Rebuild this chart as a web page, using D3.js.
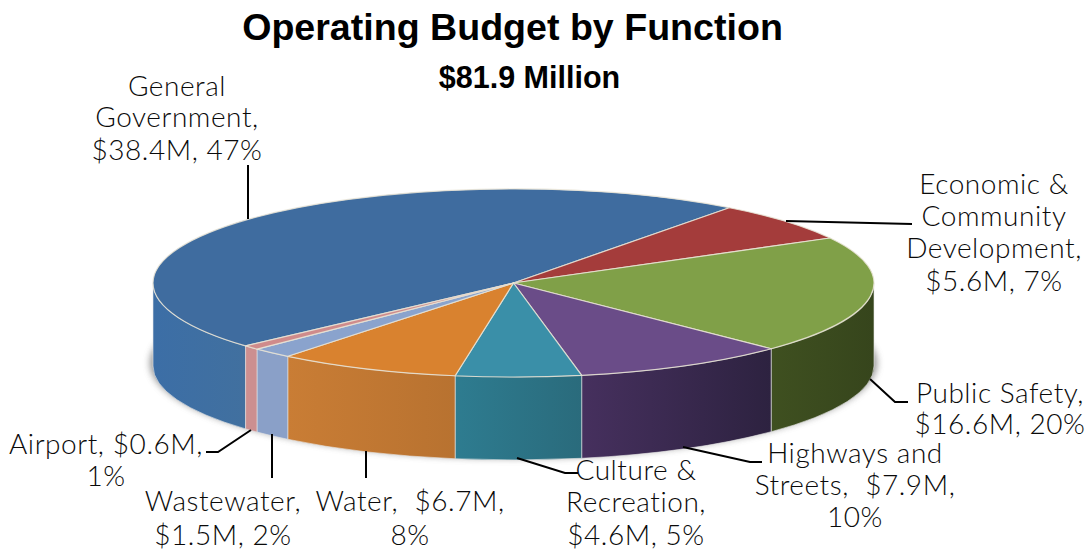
<!DOCTYPE html>
<html><head><meta charset="utf-8">
<script src="https://cdn.jsdelivr.net/npm/d3@7"></script>
<style>html,body{margin:0;padding:0;background:#fff}svg{display:block}</style></head>
<body><svg id="c" width="1091" height="550"></svg>
<script>
const categories=["General Government","Economic & Community Development","Public Safety","Highways and Streets","Culture & Recreation","Water","Wastewater","Airport"];
const values=[38.4,5.6,16.6,7.9,4.6,6.7,1.5,0.6];
const shares=[47,7,20,10,5,8,2,1];
const topColors=["#3f6c9f","#a43c3b","#80a048","#6a4c88","#3a8fa8","#d9822f","#8aa3cd","#cf8b8b"];
const sideLeft=["#3c6ea6","#8a3332","#3f5020","#46305e","#2e7c90","#c97d35","#8aa0c8","#cc8f90"];
const sideRight=["#41709f","#8a3332","#36451c","#2d2240","#2a6b7c","#b87230","#8aa0c8","#cc8f90"];
const labelLines=[["General","Government,","$38.4M, 47%"],["Economic &","Community","Development,","$5.6M, 7%"],["Public Safety,","$16.6M, 20%"],["Highways and","Streets,  $7.9M,","10%"],["Culture &","Recreation,","$4.6M, 5%"],["Water,  $6.7M,","8%"],["Wastewater,","$1.5M, 2%"],["Airport,  $0.6M,","1%"]];

const cfg={cx:513.5,cy:283,rx:360.5,ry:94,depth:83,start:36.6-168.6};
const labelPlace=[{x:177,y:[96,127,160]},{x:994,y:[194,226,258,291]},{x:1000,y:[403,434]},{x:855,y:[463,495,527]},{x:636,y:[480,512,545]},{x:410,y:[511,545]},{x:223,y:[511,545]},{x:106,y:[454,486],ws:-4}];
const leaders=[[[248,165],[248,219]],[[786,221],[912,224]],[[870,379],[895,402],[908,402]],[[683,447],[750,462],[762,462]],[[517,458],[565,473],[578,473]],[[366,451],[366,478]],[[272,434],[272,478]],[[251,430],[218,452],[206,452]]];

const svg=d3.select("#c");
const defs=svg.append("defs");
defs.append("filter").attr("id","blur").attr("x","-10%").attr("y","-30%").attr("width","120%").attr("height","160%")
  .append("feGaussianBlur").attr("stdDeviation",3.5);
categories.forEach((c,i)=>{
  const g=defs.append("linearGradient").attr("id","side"+i);
  g.append("stop").attr("offset",0).attr("stop-color",sideLeft[i]);
  g.append("stop").attr("offset",1).attr("stop-color",sideRight[i]);
});
const k=cfg.ry/cfg.rx, rad=Math.PI/180;
const pie=d3.pie().sort(null).startAngle(cfg.start*rad).endAngle((cfg.start+360)*rad);
const arcs=pie(values).map((d,i)=>({...d,i}));
const topArc=d3.arc().innerRadius(0).outerRadius(cfg.rx);

// shadow
svg.append("ellipse").attr("cx",cfg.cx).attr("cy",cfg.cy+cfg.depth-3).attr("rx",cfg.rx+3).attr("ry",cfg.ry+1)
  .attr("fill","#666").attr("opacity",.7).attr("filter","url(#blur)");

const pie3d=svg.append("g").attr("transform",`translate(${cfg.cx},${cfg.cy}) scale(1,${k})`);
const dY=cfg.depth/k;
function sidePath(d){
  const p=d3.path();
  [0,-2*Math.PI].forEach(off=>{
    const a0=Math.max(d.startAngle,Math.PI/2+off), a1=Math.min(d.endAngle,3*Math.PI/2+off);
    if(a1<=a0) return;
    const A0=a0-Math.PI/2,A1=a1-Math.PI/2,r=cfg.rx;
    p.moveTo(r*Math.cos(A0),r*Math.sin(A0));
    p.arc(0,0,r,A0,A1,false);
    p.lineTo(r*Math.cos(A1),r*Math.sin(A1)+dY);
    p.arc(0,dY,r,A1,A0,true);
    p.closePath();
  });
  return p.toString();
}
pie3d.selectAll("path.side").data(arcs).join("path").attr("class","side")
  .attr("d",sidePath).attr("fill",d=>`url(#side${d.i})`)
  .attr("stroke","#e8e8e8").attr("stroke-opacity",.6).attr("stroke-width",1).attr("vector-effect","non-scaling-stroke");
pie3d.selectAll("path.top").data(arcs).join("path").attr("class","top")
  .attr("d",topArc).attr("fill",d=>topColors[d.i])
  .attr("stroke","#e9e4d6").attr("stroke-opacity",.85).attr("stroke-width",1.2).attr("vector-effect","non-scaling-stroke").attr("stroke-linejoin","round");

svg.append("g").selectAll("path").data(leaders).join("path")
  .attr("d",d3.line()).attr("fill","none").attr("stroke","#000").attr("stroke-width",2);

const lab=svg.append("g").attr("font-family","Lato, 'Open Sans', sans-serif").attr("font-weight",300).attr("font-size",28).attr("letter-spacing",0.55).attr("fill","#0a0a0a").attr("text-anchor","middle");
labelLines.forEach((lines,i)=>{
  lines.forEach((t,j)=>{
    lab.append("text").attr("x",labelPlace[i].x).attr("y",labelPlace[i].y[j]).attr("word-spacing",labelPlace[i].ws||0).attr("xml:space","preserve").style("white-space","pre").text(t);
  });
});
svg.append("text").attr("x",512.5).attr("y",40).attr("text-anchor","middle").attr("font-family","'Liberation Sans',sans-serif").attr("font-weight",700).attr("font-size",37.6).attr("fill","#000").text("Operating Budget by Function");
svg.append("text").attr("x",529.5).attr("y",88).attr("text-anchor","middle").attr("font-family","'Liberation Sans',sans-serif").attr("font-weight",700).attr("font-size",30.5).attr("fill","#000").text("$81.9 Million");
</script></body></html>
